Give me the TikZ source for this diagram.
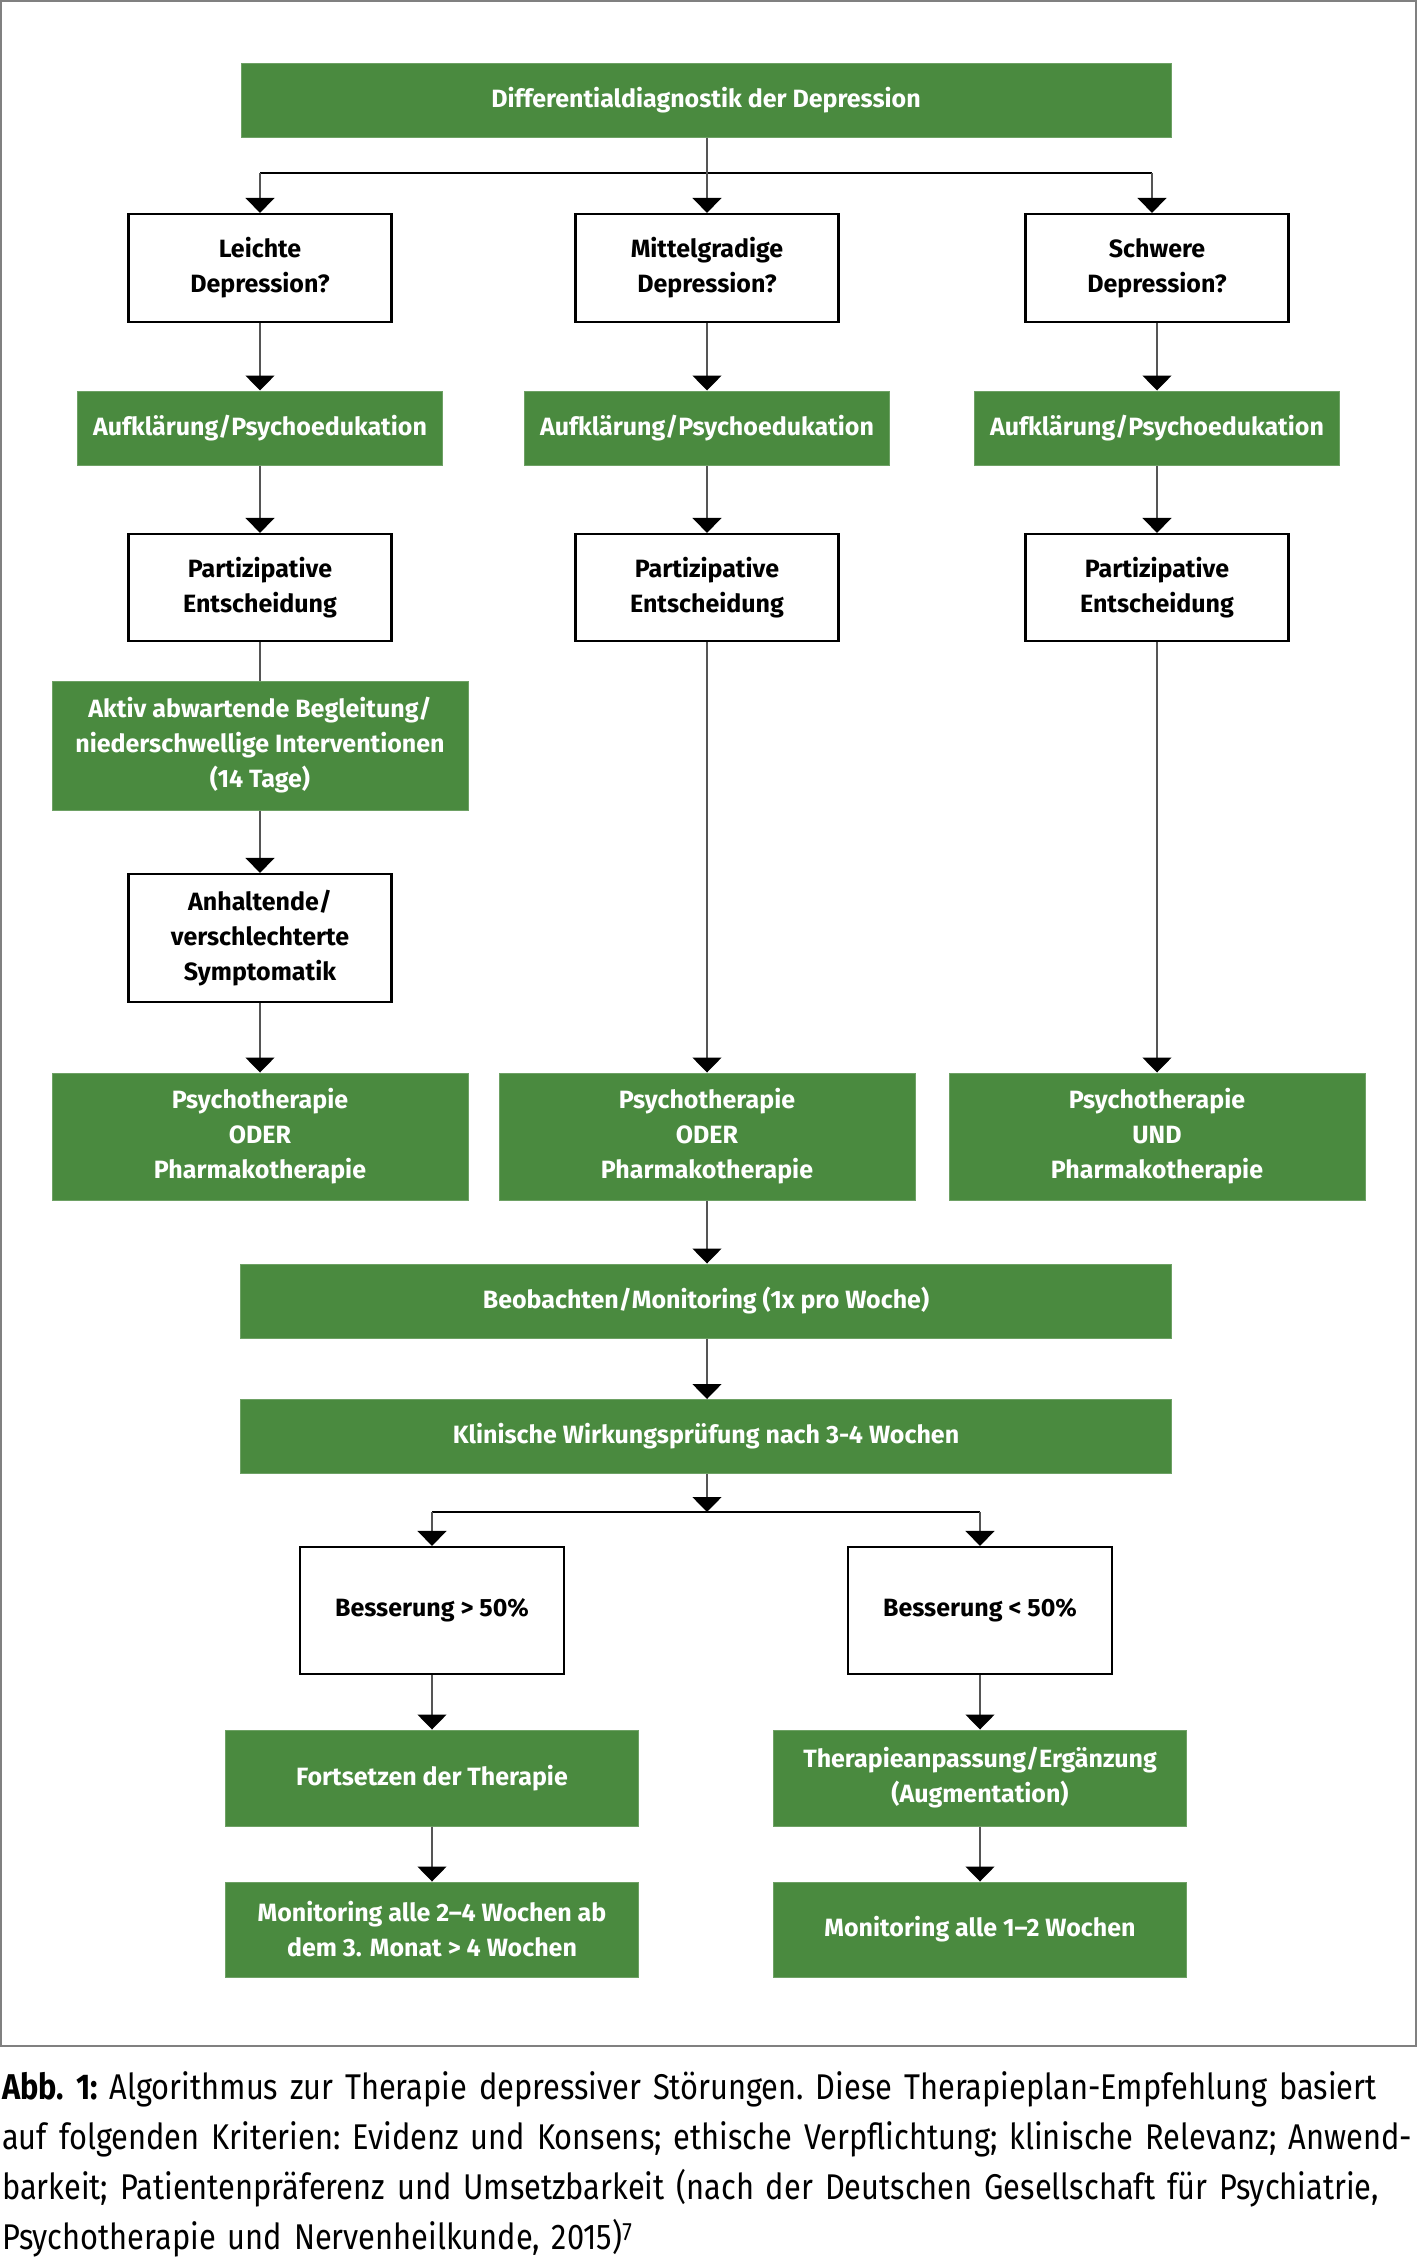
\documentclass[tikz,border=0pt]{standalone}
\usepackage{fontspec}
\setmainfont{Fira Sans}
\newfontfamily\capfont{Fira Sans}[FakeStretch=0.86]
\usetikzlibrary{arrows.meta}
\definecolor{dgreen}{HTML}{4A8A3F}
\definecolor{lgray}{HTML}{555555}
\begin{document}
\begin{tikzpicture}[x=1pt,y=-1pt,
  gbox/.style={fill=dgreen,draw=dgreen!80!white,line width=1pt,text=white,align=center,inner sep=0pt,font=\fontsize{25}{35}\selectfont\bfseries},
  wbox/.style={fill=white,draw=black,line width=2.2pt,text=black,align=center,inner sep=0pt,font=\fontsize{25}{35}\selectfont\bfseries},
  conn/.style={draw=lgray,line width=1.5pt},
  arr/.style={conn,-{Triangle[width=29pt,length=15pt,fill=black,color=black]}},
  branch/.style={draw=black,line width=2pt}]
\useasboundingbox (0,0) rectangle (1417,2265);
\draw[draw=gray,line width=2pt] (1,1) rectangle (1416,2046);
% top
\node[gbox,minimum width=930pt,minimum height=74pt] (diff) at (706,100) {Differentialdiagnostik der Depression};
% row 1
\node[wbox,minimum width=263pt,minimum height=108pt] (q1) at (260,268) {Leichte\\Depression?};
\node[wbox,minimum width=263pt,minimum height=108pt] (q2) at (707,268) {Mittelgradige\\Depression?};
\node[wbox,minimum width=263pt,minimum height=108pt] (q3) at (1157,268) {Schwere\\Depression?};
% row 2
\node[gbox,minimum width=365pt,minimum height=74pt] (a1) at (260,428) {Aufklärung/Psychoedukation};
\node[gbox,minimum width=365pt,minimum height=74pt] (a2) at (707,428) {Aufklärung/Psychoedukation};
\node[gbox,minimum width=365pt,minimum height=74pt] (a3) at (1157,428) {Aufklärung/Psychoedukation};
% row 3
\node[wbox,minimum width=263pt,minimum height=107pt] (p1) at (260,587.5) {Partizipative\\Entscheidung};
\node[wbox,minimum width=263pt,minimum height=107pt] (p2) at (707,587.5) {Partizipative\\Entscheidung};
\node[wbox,minimum width=263pt,minimum height=107pt] (p3) at (1157,587.5) {Partizipative\\Entscheidung};
% left column extra
\node[gbox,minimum width=416pt,minimum height=129pt] (akt) at (260,745.5) {Aktiv abwartende Begleitung/\\niederschwellige Interventionen\\(14 Tage)};
\node[wbox,minimum width=263pt,minimum height=128pt] (anh) at (260,938) {Anhaltende/\\verschlechterte\\Symptomatik};
% therapy row
\node[gbox,minimum width=416pt,minimum height=127pt] (t1) at (260,1136.5) {Psychotherapie\\ODER\\Pharmakotherapie};
\node[gbox,minimum width=416pt,minimum height=127pt] (t2) at (707,1136.5) {Psychotherapie\\ODER\\Pharmakotherapie};
\node[gbox,minimum width=416pt,minimum height=127pt] (t3) at (1157,1136.5) {Psychotherapie\\UND\\Pharmakotherapie};
% monitoring
\node[gbox,minimum width=931pt,minimum height=74pt] (beob) at (706,1301) {Beobachten/Monitoring (1x pro Woche)};
\node[gbox,minimum width=931pt,minimum height=74pt] (klin) at (706,1436.5) {Klinische Wirkungsprüfung nach 3-4 Wochen};
% bottom
\node[wbox,minimum width=264pt,minimum height=127pt] (b1) at (432,1610.5) {Besserung > 50\%};
\node[wbox,minimum width=264pt,minimum height=127pt] (b2) at (980,1610.5) {Besserung < 50\%};
\node[gbox,minimum width=413pt,minimum height=96pt] (f1) at (432,1778) {Fortsetzen der Therapie};
\node[gbox,minimum width=413pt,minimum height=96pt] (f2) at (980,1778) {Therapieanpassung/Ergänzung\\(Augmentation)};
\node[gbox,minimum width=413pt,minimum height=95pt] (m1) at (432,1929.5) {Monitoring alle 2–4 Wochen ab\\dem 3. Monat > 4 Wochen};
\node[gbox,minimum width=413pt,minimum height=95pt] (m2) at (980,1929.5) {Monitoring alle 1–2 Wochen};
% connectors top
\coordinate (bL) at (260,173);
\coordinate (bM) at (707,173);
\coordinate (bR) at (1152,173);
\draw[branch] (bL) -- (bR);
\draw[conn] (diff.south -| bM) -- (bM);
\draw[arr] (bM) -- (q2.north);
\draw[arr] (bL) -- (q1.north);
\draw[arr] (bR) -- (bR |- q3.north);
\foreach \i in {1,2,3}{
  \draw[arr] (q\i.south) -- (a\i.north);
  \draw[arr] (a\i.south) -- (p\i.north);
}
\draw[conn] (p1.south) -- (akt.north);
\draw[arr] (akt.south) -- (anh.north);
\draw[arr] (anh.south) -- (t1.north);
\draw[arr] (p2.south) -- (t2.north);
\draw[arr] (p3.south) -- (t3.north);
\draw[arr] (t2.south) -- (t2.south |- beob.north);
\draw[arr] (beob.south -| t2.south) -- (klin.north -| t2.south);
\coordinate (cL) at (432,1512);
\coordinate (cM) at (707,1512);
\coordinate (cR) at (980,1512);
\draw[branch] (cL) -- (cR);
\draw[arr] (klin.south -| cM) -- (cM);
\draw[arr] (cL) -- (b1.north);
\draw[arr] (cR) -- (b2.north);
\draw[arr] (b1.south) -- (f1.north);
\draw[arr] (b2.south) -- (f2.north);
\draw[arr] (f1.south) -- (m1.north);
\draw[arr] (f2.south) -- (m2.north);
% caption
\node[anchor=north west,inner sep=0pt,text width=1414pt,align=left,font=\capfont\fontsize{35.8}{50}\selectfont\frenchspacing] (cap) at (2,2071) {\textbf{Abb. 1:} Algorithmus zur Therapie depressiver Störungen. Diese Therapieplan-Empfehlung basiert\\auf folgenden Kriterien: Evidenz und Konsens; ethische Verpflichtung; klinische Relevanz; Anwend-\\barkeit; Patientenpräferenz und Umsetzbarkeit (nach der Deutschen Gesellschaft für Psychiatrie,\\Psychotherapie und Nervenheilkunde, 2015)\textsuperscript{7}};
\end{tikzpicture}
\end{document}
